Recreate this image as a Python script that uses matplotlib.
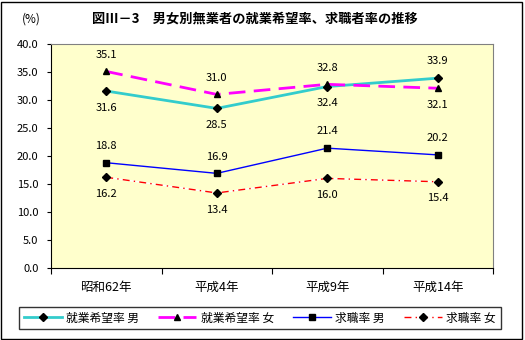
import matplotlib
matplotlib.use("Agg")
import matplotlib.pyplot as plt
from matplotlib.patches import Rectangle

plt.rcParams['font.family'] = ['Noto Sans CJK JP', 'DejaVu Sans']

categories = ['昭和62年', '平成4年', '平成9年', '平成14年']
hope_male = [31.6, 28.5, 32.4, 33.9]
hope_female = [35.1, 31.0, 32.8, 32.1]
seek_male = [18.8, 16.9, 21.4, 20.2]
seek_female = [16.2, 13.4, 16.0, 15.4]

# label placement: +1 above, -1 below
hope_male_pos = [-1, -1, -1, 1]
hope_female_pos = [1, 1, 1, -1]
seek_male_pos = [1, 1, 1, 1]
seek_female_pos = [-1, -1, -1, -1]

fig = plt.figure(figsize=(5.25, 3.4), dpi=100)
ax = fig.add_axes([51 / 525, 72 / 340, 442 / 525, 224 / 340])
ax.set_facecolor('#FFFFCC')

x = list(range(len(categories)))
ax.plot(x, hope_male, color='#33CCCC', lw=2, marker='D', ms=4,
        mfc='black', mec='black', label='就業希望率 男')
ax.plot(x, hope_female, color='#FF00FF', lw=2, dashes=(6, 3), marker='^', ms=5,
        mfc='black', mec='black', label='就業希望率 女')
ax.plot(x, seek_male, color='#0000FF', lw=1, marker='s', ms=5,
        mfc='black', mec='black', label='求職率 男')
ax.plot(x, seek_female, color='white', lw=1)
ax.plot(x, seek_female, color='#FF0000', lw=1, dashes=(5, 3, 1, 3), marker='D', ms=4,
        mfc='black', mec='black', label='求職率 女')

for vals, pos in [(hope_male, hope_male_pos), (hope_female, hope_female_pos),
                  (seek_male, seek_male_pos), (seek_female, seek_female_pos)]:
    for i, (v, p) in enumerate(zip(vals, pos)):
        ax.annotate(f'{v:.1f}', (i, v), xytext=(0, 12 * p), textcoords='offset points',
                    ha='center', va='center', fontsize=8)

ax.set_xlim(-0.5, 3.5)
ax.set_ylim(0, 40)
ax.set_yticks(range(0, 41, 5))
ax.set_yticklabels([f'{v:.1f}' for v in range(0, 41, 5)], fontsize=8)
ax.set_xticks([-0.5, 0.5, 1.5, 2.5, 3.5])
ax.set_xticklabels([])
ax.set_xticks(x, minor=True)
ax.set_xticklabels(categories, minor=True, fontsize=9)
ax.tick_params(axis='x', which='minor', length=0, pad=9)
ax.tick_params(axis='x', which='major', length=4, direction='out')
ax.tick_params(axis='y', length=3, direction='out', pad=6)
for s in ['top', 'right']:
    ax.spines[s].set_color('#808080')
for s in ['left', 'bottom']:
    ax.spines[s].set_color('black')

fig.text(22 / 525, 1 - 19 / 340, '(%)', fontsize=8.5, va='center')
fig.text(255 / 525, 1 - 19 / 340, '図Ⅲ－3　男女別無業者の就業希望率、求職者率の推移',
         fontsize=9.5, fontweight='bold', ha='center', va='center')

leg = fig.legend(loc='center', bbox_to_anchor=(260 / 525, 1 - 318 / 340), ncol=4,
                 fontsize=8.5, frameon=True, fancybox=False, edgecolor='black',
                 handlelength=3.2, handletextpad=0.4, columnspacing=1.6, borderpad=0.4)
leg.get_frame().set_linewidth(1)

fig.patches.append(Rectangle((0.002, 0.003), 0.992, 0.992, transform=fig.transFigure,
                             fill=False, edgecolor='black', lw=1))

fig.savefig('out.png', dpi=100)
